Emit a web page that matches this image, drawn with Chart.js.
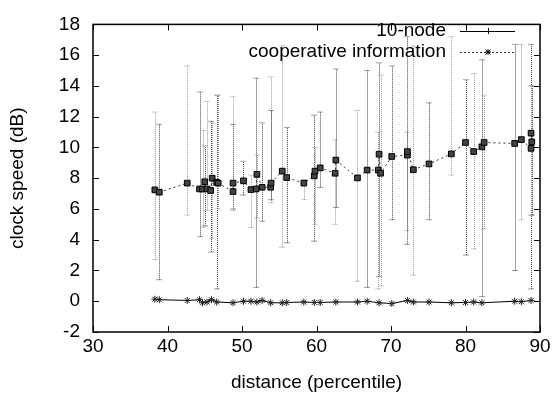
<!DOCTYPE html>
<html>
<head>
<meta charset="utf-8">
<script src="https://cdn.jsdelivr.net/npm/chart.js@4/dist/chart.umd.min.js"></script>
<style>
  html, body { margin: 0; padding: 0; background: #fff; }
  #wrap { width: 556px; height: 397px; }
</style>
</head>
<body>
<div id="wrap"><canvas id="grafico" width="556" height="397"></canvas></div>
<script>
// cooperative information: x, mean, low/high of the error bar
const coopX    = [38.3, 38.9, 42.65, 44.3, 44.7, 45.0, 45.3, 45.8, 46.0, 46.6, 46.8, 48.8, 48.8, 50.2, 51.2, 51.9, 52.0, 52.7, 53.85, 53.9, 55.4, 56.0, 58.3, 59.7, 59.8, 60.5, 62.5, 62.6, 65.5, 66.8, 68.3, 68.4, 68.6, 70.1, 72.2, 72.2, 73.0, 75.1, 78.1, 80.0, 81.1, 82.2, 82.5, 86.6, 87.5, 88.8, 88.8, 88.9];
const coopY    = [7.24, 7.09, 7.68, 7.3, 7.3, 7.77, 7.3, 7.2, 8.0, 7.73, 7.68, 7.13, 7.68, 7.83, 7.26, 7.3, 8.25, 7.41, 7.41, 7.68, 8.46, 8.04, 7.68, 8.15, 8.46, 8.67, 8.32, 9.18, 8.02, 8.53, 8.53, 9.56, 8.32, 9.41, 9.5, 9.73, 8.55, 8.93, 9.58, 10.32, 9.73, 10.04, 10.32, 10.26, 10.51, 9.94, 10.93, 10.36];
const coopLow  = [2.7, 1.4, 5.6, 4.2, 4.8, 4.9, 5.9, 3.2, 4.1, 0.8, 6.0, 6.0, 5.9, 6.9, 4.8, 0.9, 5.4, 5.2, 6.4, 6.6, 3.5, 3.8, 6.6, 3.9, 5.0, 7.4, 5.0, 6.1, 1.3, 0.9, 0.8, 1.6, 1.0, 5.3, 4.6, 3.7, 1.7, 5.3, 8.2, 3.0, 3.4, 0.3, 4.7, 2.0, 5.3, 0.8, 5.6, 5.6];
const coopHigh = [12.3, 11.5, 15.3, 13.6, 11.1, 10.1, 13.0, 11.7, 11.6, 13.4, 13.4, 11.5, 13.3, 9.1, 8.2, 14.5, 9.5, 11.6, 14.6, 12.4, 16.6, 11.3, 7.9, 12.1, 10.0, 12.3, 10.5, 15.1, 12.4, 15.0, 11.0, 15.5, 14.7, 15.3, 11.0, 17.2, 16.6, 12.9, 17.2, 14.4, 14.8, 15.7, 13.4, 16.7, 16.7, 16.7, 14.0, 14.0];

// 10-node series
const nodeX = [38.3, 38.9, 42.65, 44.3, 44.7, 45.3, 45.9, 46.6, 48.8, 50.2, 51.2, 52.0, 52.7, 53.85, 55.4, 56.0, 58.3, 59.7, 60.5, 62.6, 65.5, 66.8, 68.4, 70.1, 72.2, 73.0, 75.1, 78.1, 80.0, 81.1, 82.2, 86.6, 87.5, 88.8];
const nodeY = [0.13, 0.1, 0.05, 0.1, -0.1, -0.05, 0.1, -0.05, -0.1, 0, 0, -0.05, 0.05, -0.1, -0.1, -0.08, -0.05, -0.08, -0.08, -0.05, -0.05, 0, -0.1, -0.15, 0.05, -0.05, -0.05, -0.1, -0.08, -0.05, -0.1, 0, -0.03, 0.05];

const xTicks = [30, 40, 50, 60, 70, 80, 90];
const yTicks = [-2, 0, 2, 4, 6, 8, 10, 12, 14, 16, 18];
const labels = ['10-node', 'cooperative information'];

const fuente = "'Liberation Sans', Arial, sans-serif";

// barras de error punteadas
const errorBars = {
  id: 'errorBars',
  beforeDatasetsDraw(chart) {
    const { ctx, scales: { x, y } } = chart;
    ctx.save();
    ctx.lineWidth = 1;
    ctx.setLineDash([1, 1]);
    coopX.forEach((xv, i) => {
      const px = Math.round(x.getPixelForValue(xv)) + 0.5;
      const lo = y.getPixelForValue(coopLow[i]);
      const hi = y.getPixelForValue(coopHigh[i]);
      ctx.strokeStyle = i % 2 ? '#444' : '#999';
      ctx.beginPath();
      ctx.moveTo(px, lo); ctx.lineTo(px, hi);
      ctx.moveTo(px - 3, lo); ctx.lineTo(px + 3, lo);
      ctx.moveTo(px - 3, hi); ctx.lineTo(px + 3, hi);
      ctx.stroke();
    });
    ctx.restore();
  }
};

// marco, marcas hacia adentro y leyenda
const marco = {
  id: 'marco',
  afterDraw(chart) {
    const { ctx, chartArea: a, scales: { x, y } } = chart;
    ctx.save();
    ctx.strokeStyle = '#000';
    ctx.lineWidth = 1.5;
    ctx.strokeRect(a.left, a.top, a.right - a.left, a.bottom - a.top);
    ctx.lineWidth = 1;
    ctx.beginPath();
    xTicks.forEach(v => {
      const px = Math.round(x.getPixelForValue(v)) + 0.5;
      ctx.moveTo(px, a.bottom); ctx.lineTo(px, a.bottom - 6);
      ctx.moveTo(px, a.top); ctx.lineTo(px, a.top + 6);
    });
    yTicks.forEach(v => {
      const py = Math.round(y.getPixelForValue(v)) + 0.5;
      ctx.moveTo(a.left, py); ctx.lineTo(a.left + 6, py);
      ctx.moveTo(a.right, py); ctx.lineTo(a.right - 6, py);
    });
    ctx.stroke();

    // leyenda
    ctx.fillStyle = '#000';
    ctx.font = '19px ' + fuente;
    ctx.textAlign = 'right';
    ctx.textBaseline = 'middle';
    const rows = [31, 52];
    const x0 = 460, x1 = 515, xm = 488;
    rows.forEach((ry, i) => {
      ctx.fillText(labels[i], 446, ry);
      ctx.beginPath();
      ctx.setLineDash(i ? [2, 2] : []);
      ctx.strokeStyle = i ? '#333' : '#000';
      ctx.moveTo(x0, ry + 0.5); ctx.lineTo(x1, ry + 0.5);
      ctx.stroke();
      ctx.setLineDash([]);
      ctx.beginPath();
      ctx.strokeStyle = '#000';
      if (i === 0) {
        ctx.moveTo(xm - 3, ry + 0.5); ctx.lineTo(xm + 3, ry + 0.5);
        ctx.moveTo(xm + 0.5, ry - 3); ctx.lineTo(xm + 0.5, ry + 3);
      } else {
        ctx.moveTo(xm - 3, ry); ctx.lineTo(xm + 3, ry);
        ctx.moveTo(xm, ry - 3); ctx.lineTo(xm, ry + 3);
        ctx.moveTo(xm - 2.5, ry - 2.5); ctx.lineTo(xm + 2.5, ry + 2.5);
        ctx.moveTo(xm - 2.5, ry + 2.5); ctx.lineTo(xm + 2.5, ry - 2.5);
      }
      ctx.stroke();
    });
    ctx.restore();
  }
};

const ctx = document.getElementById('grafico').getContext('2d');
new Chart(ctx, {
  type: 'scatter',
  data: {
    datasets: [
      {
        label: labels[0],
        data: nodeX.map((v, i) => ({ x: v, y: nodeY[i] })),
        showLine: true,
        borderColor: '#000',
        borderWidth: 1,
        pointStyle: 'star',
        pointRadius: 3.5,
        pointBorderColor: '#222',
        pointBackgroundColor: '#222',
        pointBorderWidth: 1
      },
      {
        label: labels[1],
        data: coopX.map((v, i) => ({ x: v, y: coopY[i] })),
        showLine: true,
        borderColor: '#333',
        borderWidth: 1,
        borderDash: [2, 3],
        pointStyle: 'rect',
        pointRadius: 4,
        pointBackgroundColor: '#444',
        pointBorderColor: '#000',
        pointBorderWidth: 1
      }
    ]
  },
  options: {
    responsive: false,
    animation: false,
    layout: { padding: { top: 16, right: 16, left: 0, bottom: 0 } },
    plugins: {
      legend: { display: false },
      tooltip: { enabled: false }
    },
    scales: {
      x: {
        type: 'linear',
        min: 30, max: 90,
        afterBuildTicks: s => { s.ticks = xTicks.map(v => ({ value: v })); },
        afterFit: s => { s.height = 65; },
        grid: { display: false, drawTicks: false },
        border: { display: false },
        ticks: { color: '#000', font: { family: fuente, size: 19 }, padding: 3, maxRotation: 0 },
        title: {
          display: true, text: 'distance (percentile)', color: '#000',
          font: { family: fuente, size: 19 }, padding: { top: 0, bottom: 3 }
        }
      },
      y: {
        type: 'linear',
        min: -2, max: 18,
        afterBuildTicks: s => { s.ticks = yTicks.map(v => ({ value: v })); },
        afterFit: s => { s.width = 93; },
        grid: { display: false, drawTicks: false },
        border: { display: false },
        ticks: { color: '#000', font: { family: fuente, size: 19 }, padding: 13 },
        title: {
          display: true, text: 'clock speed (dB)', color: '#000',
          font: { family: fuente, size: 19 }, padding: { top: 6, bottom: 0 }
        }
      }
    }
  },
  plugins: [errorBars, marco]
});
</script>
</body>
</html>
